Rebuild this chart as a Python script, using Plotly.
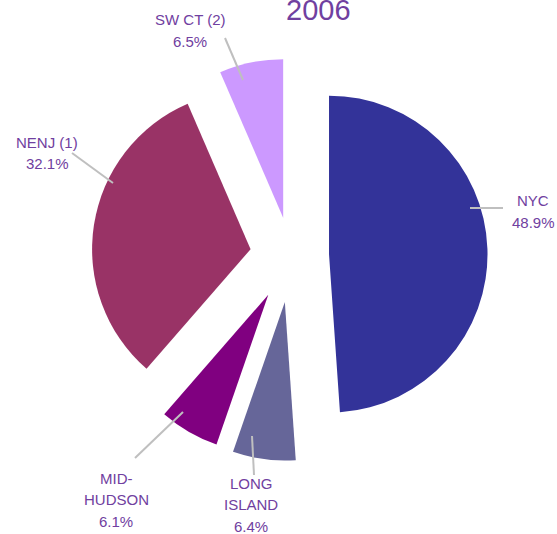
import plotly.graph_objects as go

# ---- data ----
regions = ["NYC", "LONG ISLAND", "MID-HUDSON", "NENJ (1)", "SW CT (2)"]
shares = [48.9, 6.4, 6.1, 32.1, 6.5]
share_labels = ["48.9%", "6.4%", "6.1%", "32.1%", "6.5%"]
label_lines = [["NYC"], ["LONG", "ISLAND"], ["MID-", "HUDSON"], ["NENJ (1)"], ["SW CT (2)"]]
title_text = "2006"

# ---- styles / layout ----
W, H = 557, 534
colors = ["#333399", "#666699", "#800080", "#993366", "#CC99FF"]
pulls = [0.24, 0.296, 0.286, 0.258, 0.244]
text_color = "#7040A0"
font_family = "Liberation Sans, Arial, sans-serif"

# pie centre and radius (pixels)
cx, cy, rad = 291, 255.5, 158.5
half = rad * (1 + max(pulls))

# label anchor (centre of first line, pixels) and leader-line endpoints (pixels)
label_pos = [(533, 201), (251, 483), (116, 478), (47, 142), (190, 20)]
leader = [((470, 208), (503, 208)), ((254, 475), (252, 436)), ((135, 458), (183, 412)),
          ((72, 153), (113, 183)), ((225, 38), (243, 80))]
line_gap = 21.5


def px(x):
    return x / W


def py(y):
    return 1 - y / H


fig = go.Figure(go.Pie(
    labels=regions,
    values=shares,
    sort=False,
    direction="clockwise",
    rotation=0,
    pull=pulls,
    marker=dict(colors=colors, line=dict(width=0)),
    textinfo="none",
    hoverinfo="label+percent",
    domain=dict(x=[px(cx - half), px(cx + half)], y=[py(cy + half), py(cy - half)]),
    showlegend=False,
))

annotations = []
shapes = []
for i, name in enumerate(regions):
    lines = label_lines[i] + [share_labels[i]]
    x0, y0 = label_pos[i]
    for k, t in enumerate(lines):
        annotations.append(dict(
            x=px(x0), y=py(y0 + k * line_gap), xref="paper", yref="paper",
            text=t, showarrow=False, xanchor="center", yanchor="middle",
            font=dict(size=15, color=text_color, family=font_family),
        ))
    (a, b), (c, d) = leader[i]
    shapes.append(dict(type="line", xref="paper", yref="paper",
                       x0=px(a), y0=py(b), x1=px(c), y1=py(d),
                       line=dict(color="#BFBFBF", width=2)))

annotations.append(dict(
    x=px(318), y=py(28), xref="paper", yref="paper", text=title_text,
    showarrow=False, xanchor="center", yanchor="bottom",
    font=dict(size=29, color=text_color, family=font_family),
))

fig.update_layout(
    width=W, height=H,
    margin=dict(l=0, r=0, t=0, b=0),
    paper_bgcolor="white", plot_bgcolor="white",
    annotations=annotations, shapes=shapes,
)

fig.write_html("out.html", config={"displayModeBar": False},
               post_script="document.body.style.margin='0';")
